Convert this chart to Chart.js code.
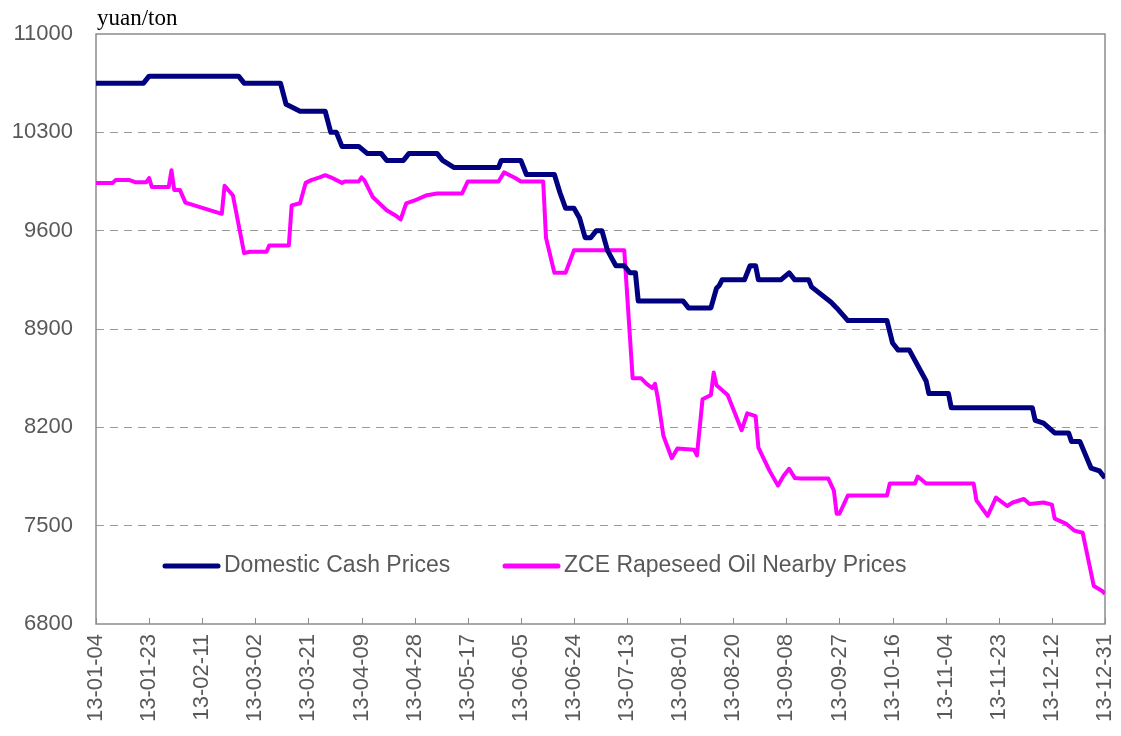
<!DOCTYPE html>
<html>
<head>
<meta charset="utf-8">
<title>Domestic Cash vs ZCE Rapeseed Oil Prices, 2013</title>
<script src="https://cdn.jsdelivr.net/npm/chart.js@4.4.0/dist/chart.umd.min.js"></script>
<style>
  html, body { margin:0; padding:0; background:#fff; }
  #wrap { width:1121px; height:736px; }
</style>
</head>
<body>
<div id="wrap"><canvas id="chart" width="1121" height="736"></canvas></div>
<script>
// ---- data (day = days after 13-01-04) ----
const xLabels = ['13-01-04','13-01-23','13-02-11','13-03-02','13-03-21','13-04-09','13-04-28',
  '13-05-17','13-06-05','13-06-24','13-07-13','13-08-01','13-08-20','13-09-08','13-09-27',
  '13-10-16','13-11-04','13-11-23','13-12-12','13-12-31'];
const yTicks = [6800, 7500, 8200, 8900, 9600, 10300, 11000];

const cashDays   = [0,17,19,51,53,66,68,70,73,82,84,86,88,94,97,102,104,110,112,122,124,128,144,145,152,154,164,166,168,171,173,175,177,179,181,183,186,189,191,193,194,210,212,220,222,223,224,232,234,236,237,245,248,250,255,256,263,265,269,283,285,287,291,297,298,305,306,335,336,339,343,348,349,352,356,359,361];
const cashPrices = [10650,10650,10700,10700,10650,10650,10500,10480,10450,10450,10300,10300,10200,10200,10150,10150,10100,10100,10150,10150,10100,10050,10050,10100,10100,10000,10000,9870,9760,9760,9690,9550,9550,9600,9600,9460,9350,9350,9300,9300,9100,9100,9050,9050,9190,9210,9250,9250,9350,9350,9250,9250,9300,9250,9250,9200,9090,9050,8960,8960,8800,8750,8750,8530,8440,8440,8340,8340,8250,8230,8160,8160,8100,8100,7910,7890,7840];

const zceDays   = [0,6,7,12,14,18,19,20,26,27,28,30,32,45,46,49,53,55,61,62,69,70,73,75,77,80,82,84,88,89,94,95,96,99,104,107,109,111,114,118,122,131,133,144,146,150,152,160,161,164,168,171,189,192,195,197,199,200,201,203,206,208,214,215,217,220,221,222,226,231,233,236,237,241,244,246,248,250,252,262,264,265,266,269,283,284,293,294,297,314,315,319,322,326,328,332,334,339,342,343,347,350,353,357,360,361];
const zcePrices = [9940,9940,9960,9960,9945,9945,9975,9910,9910,10030,9890,9890,9800,9720,9920,9850,9440,9450,9450,9495,9495,9780,9795,9940,9960,9980,9995,9980,9940,9950,9950,9980,9960,9840,9745,9710,9680,9795,9815,9850,9865,9865,9950,9950,10015,9975,9950,9950,9550,9300,9300,9460,9460,8550,8550,8510,8480,8510,8410,8140,7980,8050,8040,8000,8400,8430,8590,8500,8430,8180,8300,8280,8055,7890,7785,7855,7905,7840,7835,7835,7750,7585,7585,7715,7715,7800,7800,7850,7800,7800,7680,7570,7700,7640,7665,7690,7655,7665,7650,7550,7515,7465,7450,7070,7035,7015];

const FONT = '"Liberation Sans", Arial, sans-serif';
const GREY = '#595959';

const toPts = (days, vals) => days.map((d, i) => ({ x: d, y: vals[i] }));

// plot frame, inward date ticks, unit caption, legend inside the plot
const frame = {
  id: 'frame',
  beforeDatasetsDraw(chart){
    const { ctx, chartArea: a, scales: { x } } = chart;
    ctx.save();
    ctx.strokeStyle = '#8c8c8c';
    ctx.lineWidth = 1.5;
    ctx.strokeRect(a.left, a.top, a.right - a.left, a.bottom - a.top);
    ctx.lineWidth = 1;
    x.ticks.forEach(t => {
      const px = Math.round(x.getPixelForValue(t.value)) + 0.5;
      ctx.beginPath(); ctx.moveTo(px, a.bottom); ctx.lineTo(px, a.bottom - 6); ctx.stroke();
    });
    ctx.restore();
  },
  afterDraw(chart){
    const { ctx, chartArea: a } = chart;
    ctx.save();
    ctx.fillStyle = '#000';
    ctx.font = '23px "Liberation Serif", "Times New Roman", serif';
    ctx.textAlign = 'left'; ctx.textBaseline = 'alphabetic';
    ctx.fillText('yuan/ton', a.left + 1, 25);

    // legend
    const ly = a.bottom - 58;
    const starts = [a.left + 69, a.left + 409];
    ctx.font = '23px ' + FONT;
    ctx.textBaseline = 'middle';
    chart.data.datasets.forEach((ds, i) => {
      const x0 = starts[i];
      ctx.strokeStyle = ds.borderColor; ctx.lineWidth = 5; ctx.lineCap = 'round';
      ctx.beginPath(); ctx.moveTo(x0, ly); ctx.lineTo(x0 + 53, ly); ctx.stroke();
      ctx.fillStyle = GREY;
      ctx.fillText(ds.label, x0 + 59, ly);
    });
    ctx.restore();
  }
};

new Chart(document.getElementById('chart'), {
  type: 'line',
  data: {
    datasets: [
      { label: 'Domestic Cash Prices', data: toPts(cashDays, cashPrices), borderColor: '#000080', borderWidth: 5 },
      { label: 'ZCE Rapeseed Oil Nearby Prices', data: toPts(zceDays, zcePrices), borderColor: '#FF00FF', borderWidth: 4 }
    ]
  },
  options: {
    responsive: false, animation: false, devicePixelRatio: 1,
    layout: { padding: { top: 34, right: 16, left: 0, bottom: 0 } },
    elements: { point: { radius: 0 }, line: { tension: 0, borderJoinStyle: 'round', fill: false } },
    plugins: { legend: { display: false }, tooltip: { enabled: false } },
    scales: {
      x: {
        type: 'linear', min: 0, max: 361,
        afterBuildTicks: s => { s.ticks = xLabels.map((_, i) => ({ value: i * 19 })); },
        afterFit: s => { s.height = 112; s.paddingLeft = 0; s.paddingRight = 0; },
        grid: { display: false, drawTicks: false },
        border: { display: false },
        ticks: { autoSkip: false, maxRotation: 90, minRotation: 90, padding: 10, color: GREY,
                 font: { family: FONT, size: 22 }, callback: (v, i) => xLabels[i] }
      },
      y: {
        min: 6800, max: 11000,
        afterBuildTicks: s => { s.ticks = yTicks.map(v => ({ value: v })); },
        afterFit: s => { s.width = 96; s.paddingTop = 0; s.paddingBottom = 0; },
        grid: { drawTicks: false, lineWidth: 1,
                color: c => (c.tick && (c.tick.value === 6800 || c.tick.value === 11000)) ? 'rgba(0,0,0,0)' : '#9a9a9a' },
        border: { display: false, dash: [8, 6] },
        ticks: { padding: 23, color: GREY, font: { family: FONT, size: 22 }, callback: v => String(v) }
      }
    }
  },
  plugins: [frame]
});
</script>
</body>
</html>
